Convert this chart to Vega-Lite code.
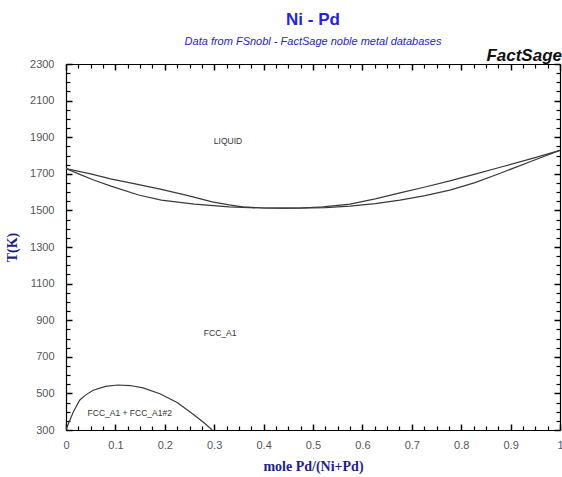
{
  "$schema": "https://vega.github.io/schema/vega-lite/v6.json",
  "width": 494,
  "height": 366,
  "autosize": {"type": "none"},
  "padding": {"left": 66, "top": 64, "right": 2, "bottom": 47},
  "background": "white",
  "title": {
    "text": "Ni - Pd",
    "subtitle": "Data from FSnobl - FactSage noble metal databases",
    "font": "Liberation Sans",
    "fontSize": 17,
    "fontWeight": "bold",
    "color": "#2525d6",
    "subtitleFont": "Liberation Sans",
    "subtitleFontSize": 11,
    "subtitleFontStyle": "italic",
    "subtitleColor": "#2525c8",
    "subtitlePadding": 7,
    "anchor": "middle",
    "frame": "group",
    "offset": -1
  },
  "config": {
    "view": {"stroke": null},
    "axis": {"grid": false, "tickColor": "#000000", "domainColor": "#000000", "domainWidth": 1.2}
  },
  "datasets": {
    "curves": [
      {"curve": "liquidus", "i": 0, "x": 0.0, "T": 1728},
      {"curve": "liquidus", "i": 1, "x": 0.05, "T": 1700},
      {"curve": "liquidus", "i": 2, "x": 0.09, "T": 1672},
      {"curve": "liquidus", "i": 3, "x": 0.14, "T": 1645},
      {"curve": "liquidus", "i": 4, "x": 0.193, "T": 1615},
      {"curve": "liquidus", "i": 5, "x": 0.245, "T": 1582},
      {"curve": "liquidus", "i": 6, "x": 0.296, "T": 1547},
      {"curve": "liquidus", "i": 7, "x": 0.33, "T": 1530},
      {"curve": "liquidus", "i": 8, "x": 0.358, "T": 1519},
      {"curve": "liquidus", "i": 9, "x": 0.40, "T": 1513},
      {"curve": "liquidus", "i": 10, "x": 0.44, "T": 1512},
      {"curve": "liquidus", "i": 11, "x": 0.474, "T": 1513},
      {"curve": "liquidus", "i": 12, "x": 0.52, "T": 1519},
      {"curve": "liquidus", "i": 13, "x": 0.575, "T": 1534},
      {"curve": "liquidus", "i": 14, "x": 0.626, "T": 1563},
      {"curve": "liquidus", "i": 15, "x": 0.676, "T": 1596},
      {"curve": "liquidus", "i": 16, "x": 0.727, "T": 1628},
      {"curve": "liquidus", "i": 17, "x": 0.777, "T": 1661},
      {"curve": "liquidus", "i": 18, "x": 0.828, "T": 1698},
      {"curve": "liquidus", "i": 19, "x": 0.879, "T": 1736},
      {"curve": "liquidus", "i": 20, "x": 0.946, "T": 1786},
      {"curve": "liquidus", "i": 21, "x": 1.0, "T": 1828},
      {"curve": "solidus", "i": 0, "x": 0.0, "T": 1728},
      {"curve": "solidus", "i": 1, "x": 0.028, "T": 1697},
      {"curve": "solidus", "i": 2, "x": 0.056, "T": 1666},
      {"curve": "solidus", "i": 3, "x": 0.091, "T": 1633},
      {"curve": "solidus", "i": 4, "x": 0.147, "T": 1584},
      {"curve": "solidus", "i": 5, "x": 0.193, "T": 1556},
      {"curve": "solidus", "i": 6, "x": 0.26, "T": 1534},
      {"curve": "solidus", "i": 7, "x": 0.33, "T": 1519},
      {"curve": "solidus", "i": 8, "x": 0.40, "T": 1513},
      {"curve": "solidus", "i": 9, "x": 0.44, "T": 1512},
      {"curve": "solidus", "i": 10, "x": 0.474, "T": 1512},
      {"curve": "solidus", "i": 11, "x": 0.525, "T": 1515},
      {"curve": "solidus", "i": 12, "x": 0.575, "T": 1523},
      {"curve": "solidus", "i": 13, "x": 0.626, "T": 1537},
      {"curve": "solidus", "i": 14, "x": 0.676, "T": 1556},
      {"curve": "solidus", "i": 15, "x": 0.727, "T": 1581},
      {"curve": "solidus", "i": 16, "x": 0.777, "T": 1611},
      {"curve": "solidus", "i": 17, "x": 0.828, "T": 1652},
      {"curve": "solidus", "i": 18, "x": 0.879, "T": 1703},
      {"curve": "solidus", "i": 19, "x": 0.946, "T": 1773},
      {"curve": "solidus", "i": 20, "x": 1.0, "T": 1828},
      {"curve": "gap", "i": 0, "x": 0.0, "T": 300},
      {"curve": "gap", "i": 1, "x": 0.003, "T": 322},
      {"curve": "gap", "i": 2, "x": 0.008, "T": 355},
      {"curve": "gap", "i": 3, "x": 0.015, "T": 400},
      {"curve": "gap", "i": 4, "x": 0.028, "T": 464},
      {"curve": "gap", "i": 5, "x": 0.04, "T": 492},
      {"curve": "gap", "i": 6, "x": 0.055, "T": 517},
      {"curve": "gap", "i": 7, "x": 0.08, "T": 538},
      {"curve": "gap", "i": 8, "x": 0.105, "T": 546},
      {"curve": "gap", "i": 9, "x": 0.13, "T": 543},
      {"curve": "gap", "i": 10, "x": 0.156, "T": 530},
      {"curve": "gap", "i": 11, "x": 0.19, "T": 498},
      {"curve": "gap", "i": 12, "x": 0.225, "T": 450},
      {"curve": "gap", "i": 13, "x": 0.258, "T": 385},
      {"curve": "gap", "i": 14, "x": 0.28, "T": 338},
      {"curve": "gap", "i": 15, "x": 0.296, "T": 300}
    ],
    "labels": [
      {"label": "LIQUID", "x": 0.328, "T": 1881},
      {"label": "FCC_A1", "x": 0.312, "T": 830},
      {"label": "FCC_A1 + FCC_A1#2", "x": 0.129, "T": 395}
    ]
  },
  "layer": [
    {
      "data": {"name": "curves"},
      "mark": {"type": "line", "color": "#3a3a3a", "strokeWidth": 1.2, "clip": true},
      "encoding": {
        "x": {
          "field": "x", "type": "quantitative",
          "scale": {"domain": [0, 1], "nice": false, "zero": false},
          "axis": {
            "orient": "bottom",
            "title": "mole Pd/(Ni+Pd)",
            "titleFont": "Liberation Serif",
            "titleFontSize": 14,
            "titleFontWeight": "bold",
            "titleColor": "#1e1e8c",
            "titlePadding": 9,
            "values": [0,0.1,0.2,0.3,0.4,0.5,0.6,0.7,0.8,0.9,1],
            "format": "~g",
            "labelOverlap": false,
            "labelFlush": false,
            "labelFont": "Liberation Sans",
            "labelFontSize": 11,
            "labelColor": "#555555",
            "labelPadding": 9,
            "ticks": false,
            "tickSize": 0
          }
        },
        "y": {
          "field": "T", "type": "quantitative",
          "scale": {"domain": [300, 2300], "nice": false, "zero": false},
          "axis": {
            "orient": "left",
            "title": "T(K)",
            "titleFont": "Liberation Serif",
            "titleFontSize": 14,
            "titleFontWeight": "bold",
            "titleColor": "#1e1e8c",
            "titlePadding": 10,
            "values": [300,500,700,900,1100,1300,1500,1700,1900,2100,2300],
            "format": "d",
            "labelOverlap": false,
            "labelFlush": false,
            "labelFont": "Liberation Sans",
            "labelFontSize": 11,
            "labelColor": "#555555",
            "labelPadding": 12,
            "ticks": false,
            "tickSize": 0
          }
        },
        "detail": {"field": "curve"},
        "order": {"field": "i", "type": "quantitative"}
      }
    },
    {
      "data": {"name": "labels"},
      "mark": {"type": "text", "font": "Liberation Sans", "fontSize": 8.5, "color": "#333333"},
      "encoding": {
        "x": {
          "field": "x", "type": "quantitative",
          "axis": {"orient": "top", "title": null, "labels": false, "ticks": false}
        },
        "y": {
          "field": "T", "type": "quantitative",
          "axis": {"orient": "right", "title": null, "labels": false, "ticks": false}
        },
        "text": {"field": "label", "type": "nominal"}
      }
    },
    {
      "data": {"name": "curves"},
      "mark": {"type": "point", "opacity": 0, "size": 0},
      "encoding": {
        "x": {
          "field": "x", "type": "quantitative",
          "axis": {"orient": "top", "offset": -366, "title": null, "labels": false, "domain": false, "ticks": true, "tickSize": 6, "tickWidth": 1.5,
                   "values": [0,0.1,0.2,0.3,0.4,0.5,0.6,0.7,0.8,0.9,1]}
        },
        "y": {
          "field": "T", "type": "quantitative",
          "axis": {"orient": "right", "offset": -494, "title": null, "labels": false, "domain": false, "ticks": true, "tickSize": 6, "tickWidth": 1.5,
                   "values": [300,500,700,900,1100,1300,1500,1700,1900,2100,2300]}
        }
      }
    },
    {
      "data": {"name": "curves"},
      "mark": {"type": "point", "opacity": 0, "size": 0},
      "encoding": {
        "x": {
          "field": "x", "type": "quantitative",
          "axis": {"orient": "top", "offset": -366, "title": null, "labels": false, "domain": false, "ticks": true, "tickSize": 4, "tickWidth": 1.2,
                   "values": [0.025,0.05,0.075,0.125,0.15,0.175,0.225,0.25,0.275,0.325,0.35,0.375,0.425,0.45,0.475,0.525,0.55,0.575,0.625,0.65,0.675,0.725,0.75,0.775,0.825,0.85,0.875,0.925,0.95,0.975]}
        },
        "y": {
          "field": "T", "type": "quantitative",
          "axis": {"orient": "right", "offset": -494, "title": null, "labels": false, "domain": false, "ticks": true, "tickSize": 4, "tickWidth": 1.2,
                   "values": [350,400,450,550,600,650,750,800,850,950,1000,1050,1150,1200,1250,1350,1400,1450,1550,1600,1650,1750,1800,1850,1950,2000,2050,2150,2200,2250]}
        }
      }
    },
    {
      "data": {"name": "curves"},
      "mark": {"type": "point", "opacity": 0, "size": 0},
      "encoding": {
        "x": {
          "field": "x", "type": "quantitative",
          "axis": {"orient": "bottom", "offset": -366, "title": null, "labels": false, "domain": false, "ticks": true, "tickSize": 6, "tickWidth": 1.5,
                   "values": [0,0.1,0.2,0.3,0.4,0.5,0.6,0.7,0.8,0.9,1]}
        },
        "y": {
          "field": "T", "type": "quantitative",
          "axis": {"orient": "left", "offset": -494, "title": null, "labels": false, "domain": false, "ticks": true, "tickSize": 6, "tickWidth": 1.5,
                   "values": [300,500,700,900,1100,1300,1500,1700,1900,2100,2300]}
        }
      }
    },
    {
      "data": {"name": "curves"},
      "mark": {"type": "point", "opacity": 0, "size": 0},
      "encoding": {
        "x": {
          "field": "x", "type": "quantitative",
          "axis": {"orient": "bottom", "offset": -366, "title": null, "labels": false, "domain": false, "ticks": true, "tickSize": 4, "tickWidth": 1.2,
                   "values": [0.025,0.05,0.075,0.125,0.15,0.175,0.225,0.25,0.275,0.325,0.35,0.375,0.425,0.45,0.475,0.525,0.55,0.575,0.625,0.65,0.675,0.725,0.75,0.775,0.825,0.85,0.875,0.925,0.95,0.975]}
        },
        "y": {
          "field": "T", "type": "quantitative",
          "axis": {"orient": "left", "offset": -494, "title": null, "labels": false, "domain": false, "ticks": true, "tickSize": 4, "tickWidth": 1.2,
                   "values": [350,400,450,550,600,650,750,800,850,950,1000,1050,1150,1200,1250,1350,1400,1450,1550,1600,1650,1750,1800,1850,1950,2000,2050,2150,2200,2250]}
        }
      }
    },
    {
      "data": {"values": [{}]},
      "mark": {"type": "text", "font": "Liberation Sans", "fontSize": 17, "fontWeight": "bold", "fontStyle": "italic", "color": "#111111", "align": "right", "baseline": "alphabetic", "dx": 2, "dy": -3},
      "encoding": {
        "x": {"datum": 1, "type": "quantitative", "axis": null},
        "y": {"datum": 2300, "type": "quantitative", "axis": null},
        "text": {"value": "FactSage"}
      }
    }
  ],
  "resolve": {"axis": {"x": "independent", "y": "independent"}}
}
